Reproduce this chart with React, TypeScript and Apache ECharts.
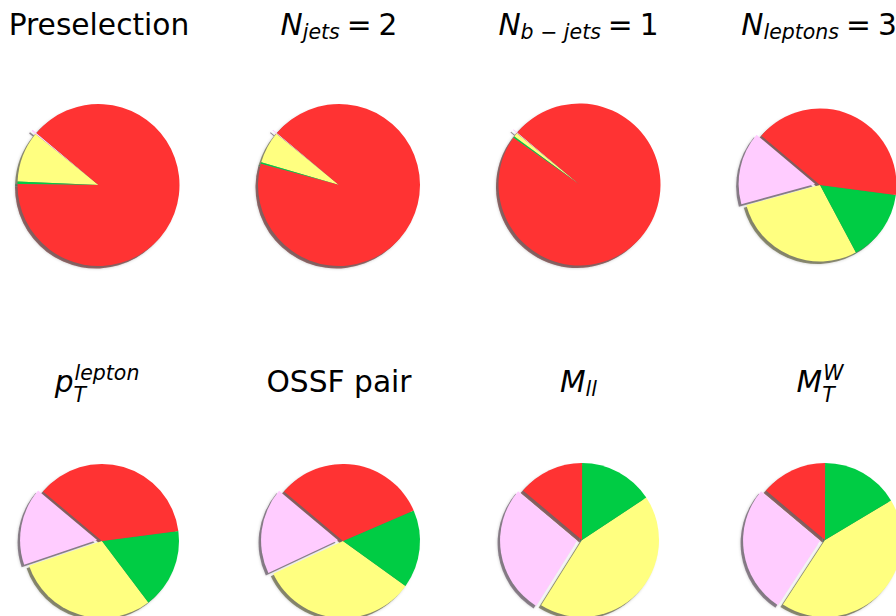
import React, { useEffect, useRef } from "react";
import * as echarts from "echarts";

// Event yield share per process after each selection step (percent)
const processes = ["Signal", "Background I", "Background II", "Background III"];
const processColors = ["#ffccff", "#ffff80", "#00cc44", "#ff3333"];

const preselection = [0.3, 10.1, 0.5, 89.1];
const nJets = [0.2, 6.4, 0.3, 93.1];
const nBJets = [0.2, 0.8, 0.3, 98.7];
const nLeptons = [15.4, 28.5, 15.1, 41.0];
const ptLepton = [16.3, 30.1, 16.8, 36.8];
const ossfPair = [18.1, 33.1, 16.4, 32.4];
const mll = [27.2, 43.2, 15.7, 13.9];
const mtW = [26.9, 42.8, 16.4, 13.9];

const cutFlow = [preselection, nJets, nBJets, nLeptons, ptLepton, ossfPair, mll, mtW];

// Panel titles: nucleus text with optional sub/superscripts; "rel" marks a relation sign
type Piece = { t: string; it?: boolean; sub?: string; sup?: string; rel?: boolean };
const titles: Piece[][] = [
  [{ t: "Preselection" }],
  [{ t: "N", it: true, sub: "jets" }, { t: "=", rel: true }, { t: "2" }],
  [{ t: "N", it: true, sub: "b \u2212 jets" }, { t: "=", rel: true }, { t: "1" }],
  [{ t: "N", it: true, sub: "leptons" }, { t: "=", rel: true }, { t: "3" }],
  [{ t: "p", it: true, sub: "T", sup: "lepton" }],
  [{ t: "OSSF pair" }],
  [{ t: "M", it: true, sub: "ll" }],
  [{ t: "M", it: true, sub: "T", sup: "W" }],
];

// Panel geometry
const panels = [
  { cx: 98.5, cy: 185, r: 81, tx: 99, base: 35 },
  { cx: 339, cy: 185, r: 81, tx: 339, base: 35 },
  { cx: 579.5, cy: 184.5, r: 81, tx: 578.5, base: 35 },
  { cx: 820, cy: 185, r: 76.5, tx: 819, base: 35 },
  { cx: 102, cy: 541, r: 77, tx: 97, base: 392 },
  { cx: 343, cy: 541, r: 77, tx: 339, base: 392 },
  { cx: 582, cy: 540, r: 77, tx: 578.5, base: 392 },
  { cx: 825, cy: 540, r: 77, tx: 820, base: 392 },
];

const FONT = "DejaVu Sans";
const F = 29.7;
const S = 20.5;
const REL_GAP = 7;

function shade(hex: string, k: number, a: number) {
  const n = parseInt(hex.slice(1), 16);
  const r = Math.round(((n >> 16) & 255) * k);
  const g = Math.round(((n >> 8) & 255) * k);
  const b = Math.round((n & 255) * k);
  return `rgba(${r},${g},${b},${a})`;
}

function buildTitle(pieces: Piece[], cx: number, base: number, measure: (t: string, s: number, it: boolean) => number) {
  const items: { text: string; x: number; y: number; size: number; it: boolean }[] = [];
  let x = 0;
  for (const p of pieces) {
    if (p.rel) x += REL_GAP;
    items.push({ text: p.t, x, y: base, size: F, it: !!p.it });
    x += measure(p.t, F, !!p.it);
    let ws = 0;
    if (p.sub) {
      const dy = p.sup ? 10 : 4;
      items.push({ text: p.sub, x, y: base + dy, size: S, it: true });
      ws = measure(p.sub, S, true);
    }
    if (p.sup) {
      items.push({ text: p.sup, x: x + 1, y: base - 12, size: S, it: true });
      ws = Math.max(ws, measure(p.sup, S, true) + 1);
    }
    x += ws;
    if (p.rel) x += REL_GAP;
  }
  const off = cx - x / 2;
  return items.map((it) => ({
    type: "text",
    x: off + it.x,
    y: it.y - 0.346 * it.size,
    silent: true,
    style: {
      text: it.text,
      fontFamily: FONT,
      fontSize: it.size,
      fontStyle: it.it ? "italic" : "normal",
      fill: "#000",
      align: "left",
      verticalAlign: "middle",
    },
  }));
}

export default function App() {
  const ref = useRef<HTMLDivElement>(null);

  useEffect(() => {
    if (!ref.current) return;
    const chart = echarts.init(ref.current, undefined, { renderer: "svg" });

    const ctx = document.createElement("canvas").getContext("2d")!;
    const measure = (t: string, s: number, it: boolean) => {
      ctx.font = `${it ? "italic " : ""}${s}px "${FONT}"`;
      return ctx.measureText(t).width;
    };

    const shadowColors = processColors.map((c) => shade(c, 0.3, 0.6));

    const series: any[] = [];
    panels.forEach((pn, k) => {
      const vals = cutFlow[k];
      const make = (isShadow: boolean) => ({
        type: "pie",
        center: [pn.cx + (isShadow ? -2.5 : 0), pn.cy + (isShadow ? 2.5 : 0)],
        radius: [0, pn.r],
        startAngle: 140,
        clockwise: false,
        selectedMode: "single",
        selectedOffset: 5,
        avoidLabelOverlap: false,
        minAngle: 0,
        silent: true,
        z: isShadow ? 1 : 2,
        label: { show: false },
        labelLine: { show: false },
        emphasis: { disabled: true },
        select: { itemStyle: { borderWidth: 0 } },
        itemStyle: isShadow
          ? { borderWidth: 0, shadowBlur: 3, shadowColor: "rgba(0,0,0,0.35)" }
          : { borderWidth: 0 },
        data: vals.map((v, i) => ({
          name: processes[i],
          value: v,
          selected: i === 0,
          itemStyle: { color: isShadow ? shadowColors[i] : processColors[i] },
        })),
      });
      series.push(make(true), make(false));
    });

    const graphic: any[] = [];
    panels.forEach((pn, k) => {
      graphic.push(...buildTitle(titles[k], pn.tx, pn.base, measure));
    });

    chart.setOption({
      animation: false,
      backgroundColor: "#ffffff",
      series,
      graphic,
    });

    return () => chart.dispose();
  }, []);

  return (
    <div
      ref={ref}
      style={{ position: "fixed", left: 0, top: 0, width: 896, height: 616 }}
    />
  );
}
